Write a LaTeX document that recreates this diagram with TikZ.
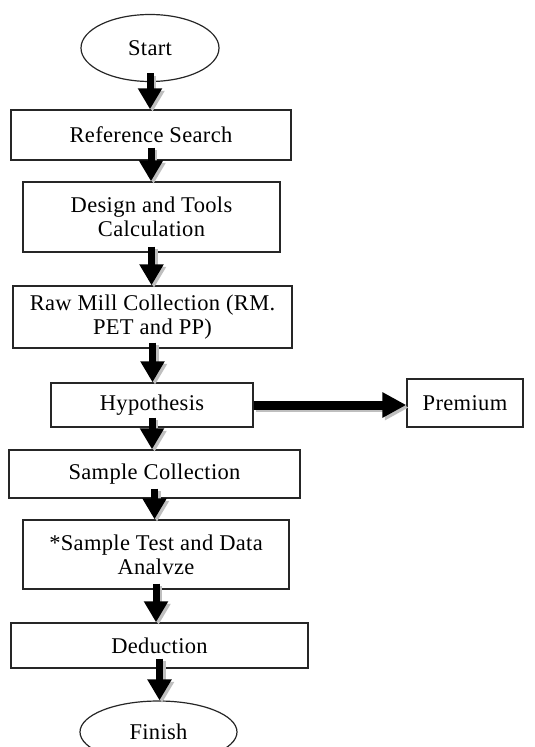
\documentclass[tikz,border=0pt]{standalone}
\usepackage{fontspec}
\setmainfont{Liberation Serif}[LetterSpace=1.5]
\usetikzlibrary{arrows.meta,shapes.geometric}
\begin{document}
\begin{tikzpicture}[x=1pt,y=-1pt,
  every node/.style={font=\fontsize{22.5}{24}\selectfont, text=black, inner sep=0pt, align=center},
  pbox/.style={draw=black!85, line width=1.4pt, rectangle},
  term/.style={draw=black!85, line width=1.2pt, ellipse},
  flow/.style={line width=7pt, black, -{Triangle[width=23pt,length=21pt]},
     preaction={draw=gray!50, line width=7pt, -{Triangle[width=23pt,length=21pt]}, transform canvas={xshift=2.5pt,yshift=-2.5pt}}},
  side/.style={line width=9pt, black, -{Triangle[width=24pt,length=24pt]},
     preaction={draw=gray!50, line width=9pt, -{Triangle[width=24pt,length=24pt]}, transform canvas={xshift=2.5pt,yshift=-2.5pt}}}
]
\useasboundingbox (0,0) rectangle (535,747);
\fill[white] (0,0) rectangle (535,747);
\begin{scope}
\clip (0,0) rectangle (535,747);
\node[term, minimum width=138pt, minimum height=67pt] (start) at (150,48) {Start};
\node[pbox, minimum width=280pt, minimum height=50pt] (ref) at (151,135) {Reference Search};
\node[pbox, minimum width=257pt, minimum height=70pt] (design) at (151.5,217) {Design and Tools\\Calculation};
\node[pbox, minimum width=279pt, minimum height=62pt] (raw) at (152.5,317) {Raw Mill Collection (RM.\\PET and PP)};
\node[pbox, minimum width=202pt, minimum height=44pt] (hyp) at (152,405) {Hypothesis};
\node[pbox, minimum width=116pt, minimum height=48pt] (prem) at (465,403) {Premium};
\node[pbox, minimum width=291pt, minimum height=48pt] (sample) at (154.5,474) {Sample Collection};
\node[pbox, minimum width=266pt, minimum height=69pt] (test) at (156,554.5) {*Sample Test and Data\\Analvze};
\node[pbox, minimum width=297pt, minimum height=45pt] (ded) at (159.5,645.5) {Deduction};
\node[term, minimum width=157pt, minimum height=62pt] (finish) at (158.5,732) {Finish};

\draw[flow] ([yshift=9pt]start.south) -- (start.south |- ref.north);
\draw[flow] ([yshift=13pt]ref.south) -- (ref.south |- design.north);
\draw[flow] ([yshift=6pt]design.south) -- (design.south |- raw.north);
\draw[flow] ([yshift=6pt]raw.south) -- (raw.south |- hyp.north);
\draw[flow] ([yshift=10pt]hyp.south) -- (hyp.south |- sample.north);
\draw[flow] ([yshift=10pt]sample.south) -- (sample.south |- test.north);
\draw[flow] ([yshift=6pt]test.south) -- (test.south |- ded.north);
\draw[flow] ([yshift=10pt]ded.south) -- (ded.south |- finish.north);
\draw[side] (hyp.east) -- (prem.west |- hyp.east);
\end{scope}
\end{tikzpicture}
\end{document}
